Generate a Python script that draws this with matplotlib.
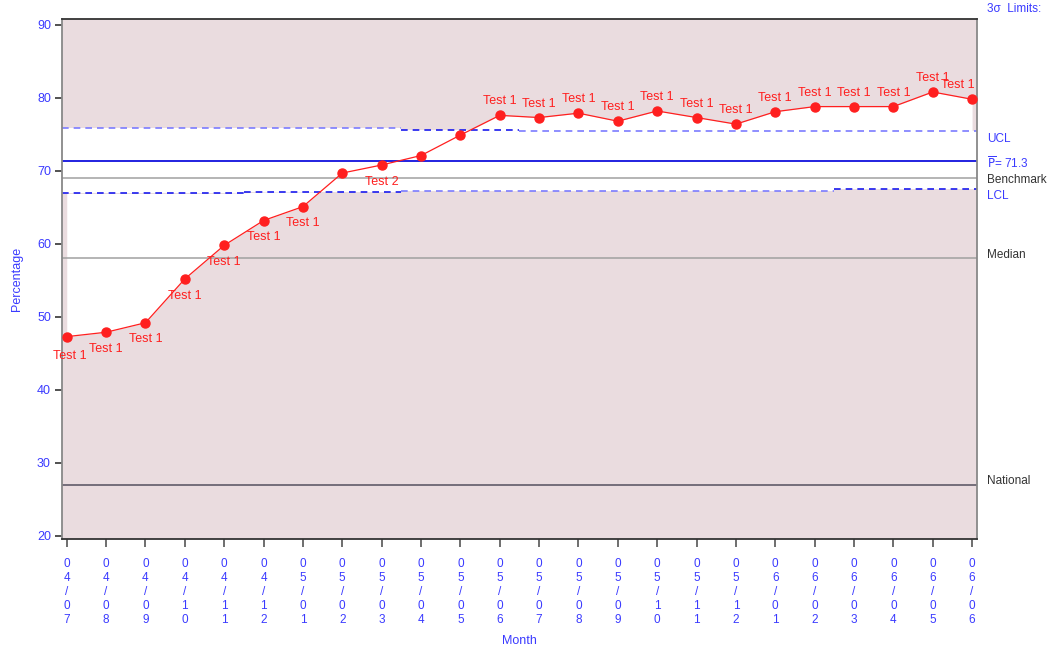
import itertools

import matplotlib
matplotlib.use("Agg")
import matplotlib.pyplot as plt
import matplotlib.transforms as mtransforms
import numpy as np

plt.rcParams["font.family"] = ["Liberation Sans", "DejaVu Sans"]

# monthly values (percentage)
months = ["04/07", "04/08", "04/09", "04/10", "04/11", "04/12",
          "05/01", "05/02", "05/03", "05/04", "05/05", "05/06",
          "05/07", "05/08", "05/09", "05/10", "05/11", "05/12",
          "06/01", "06/02", "06/03", "06/04", "06/05", "06/06"]
values = [47.3, 47.9, 49.2, 55.2, 59.8, 63.2, 65.1, 69.7, 70.8, 72.1, 74.9, 77.6,
          77.3, 77.9, 76.8, 78.2, 77.3, 76.4, 78.1, 78.8, 78.8, 78.8, 80.8, 79.8]
ucl = [75.9] * 9 + [75.6] * 3 + [75.4] * 12
lcl = [66.9] * 5 + [67.1] * 4 + [67.2] * 11 + [67.5] * 4
test_labels = ["Test 1", "Test 1", "Test 1", "Test 1", "Test 1", "Test 1",
               "Test 1", "", "Test 2", "", "", "Test 1",
               "Test 1", "Test 1", "Test 1", "Test 1", "Test 1", "Test 1",
               "Test 1", "Test 1", "Test 1", "Test 1", "Test 1", "Test 1"]
label_below = [True] * 9 + [False] * 15

center = 71.3
benchmark = 69.0
median = 58.0
national = 27.0

ucl_colors = ["#7b7bff", "#1a1aee", "#7b7bff"]
lcl_colors = ["#1a1aee", "#1a1aee", "#7b7bff", "#1a1aee"]

pink = "#eadcdf"
blue_txt = "#3a3aff"
red = "#ff1f1f"

fig = plt.figure(figsize=(10.6, 6.54), dpi=100)
ax = fig.add_axes([0.0585, 0.176, 0.863, 0.795])
ax.set_facecolor(pink)

xmin, xmax = -0.12, 23.12

x = np.arange(len(values))
v = np.array(values)
u = np.array(ucl)
l = np.array(lcl)

# white band: between LCL and UCL over the full width, widened out to the data line
xb = np.concatenate([[xmin], x, [xmax]])
lb = np.concatenate([[l[0]], l, [l[-1]]])
ub = np.concatenate([[u[0]], u, [u[-1]]])
ax.fill_between(xb, lb, ub, step="mid", color="white", lw=0, zorder=1)
ax.fill_between(x, v, l, where=v < l, interpolate=True, color="white", lw=0, zorder=1)
ax.fill_between(x, u, v, where=v > u, interpolate=True, color="white", lw=0, zorder=1)


def draw_limit(vals, colors):
    pos = 0
    for (val, grp), c in zip(itertools.groupby(vals), colors):
        n = len(list(grp))
        x0 = max(pos - 0.5, xmin)
        x1 = min(pos + n - 0.5, xmax)
        ax.plot([x0, x1], [val, val], color=c, lw=1.2, ls=(0, (4, 3)), zorder=2)
        pos += n


draw_limit(ucl, ucl_colors)
draw_limit(lcl, lcl_colors)

ax.axhline(center, color="#1010dd", lw=1.3, zorder=2)
ax.axhline(benchmark, color="#a0a0a0", lw=1.1, zorder=2)
ax.axhline(median, color="#a0a0a0", lw=1.1, zorder=2)
ax.axhline(national, color="#55505f", lw=1.1, zorder=2)

ax.plot(x, v, color=red, lw=0.9, marker="o", ms=6.5, mec=red, mfc=red, zorder=4)

for i, (txt, below) in enumerate(zip(test_labels, label_below)):
    if not txt:
        continue
    dx = 0
    if i == 0:
        dx = 2
    if i == 23:
        dx = -10
    dy = -12 if below else 10
    if i == 0:
        dy = -14
    ax.annotate(txt, (x[i], v[i]), xytext=(dx, dy), textcoords="offset points",
                ha="center", va="center", color=red, fontsize=9, zorder=5)

ax.set_xlim(xmin, xmax)
ax.set_ylim(19.6, 90.8)
ax.set_yticks(np.arange(20, 91, 10))
ax.set_xticks(x)
ax.set_xticklabels(["\n".join(m) for m in months], linespacing=1.2)
ax.tick_params(axis="y", colors="#333333", labelcolor=blue_txt, labelsize=9,
               length=5, width=1.2, pad=3)
ax.tick_params(axis="x", colors="#555555", labelcolor=blue_txt, labelsize=8.5,
               length=6, width=1.2, pad=8)

for side, c in [("top", "#333333"), ("bottom", "#333333"),
                ("left", "#888888"), ("right", "#888888")]:
    ax.spines[side].set_color(c)
    ax.spines[side].set_linewidth(1.3)

ax.set_xlabel("Month", color=blue_txt, fontsize=9, labelpad=7)
ax.set_ylabel("Percentage", color=blue_txt, fontsize=9, labelpad=10)

# right-hand annotations
trans = mtransforms.blended_transform_factory(ax.transAxes, ax.transData)
rx = 1.011
ax.text(rx, 92.2, "3\u03c3  Limits:", transform=trans, color=blue_txt,
        fontsize=8.5, va="center", clip_on=False)
ax.text(rx, u[-1] - 1.0, "UCL", transform=trans, color=blue_txt,
        fontsize=8.5, va="center", clip_on=False)
ax.text(rx, center - 0.2, r"$\overline{\mathrm{P}}$= 71.3", transform=trans,
        color=blue_txt, fontsize=8.5, va="center", clip_on=False)
ax.text(rx, benchmark - 0.2, "Benchmark", transform=trans, color="#333333",
        fontsize=8.5, va="center", clip_on=False)
ax.text(rx, l[-1] - 1.0, "LCL", transform=trans, color=blue_txt,
        fontsize=8.5, va="center", clip_on=False)
ax.text(rx, median + 0.5, "Median", transform=trans, color="#333333",
        fontsize=8.5, va="center", clip_on=False)
ax.text(rx, national + 0.5, "National", transform=trans, color="#333333",
        fontsize=8.5, va="center", clip_on=False)

fig.savefig("out.png", dpi=100)
